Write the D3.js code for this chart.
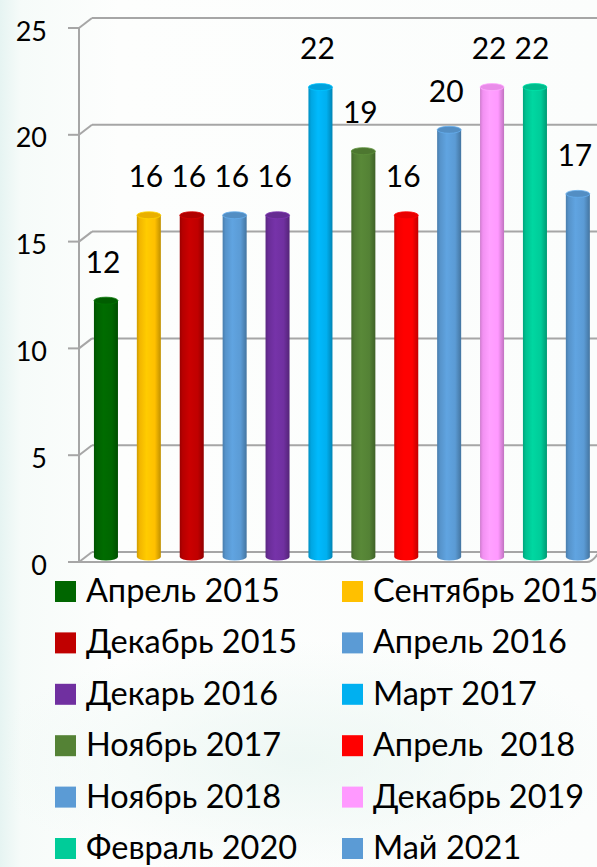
<!DOCTYPE html>
<html><head><meta charset="utf-8">
<script src="https://cdn.jsdelivr.net/npm/d3@7"></script>
<style>html,body{margin:0;padding:0;background:#fff;overflow:hidden;}svg{display:block;}</style>
</head><body>
<script>
const categories = ["Апрель 2015","Сентябрь 2015","Декабрь 2015","Апрель 2016","Декарь 2016","Март 2017","Ноябрь 2017","Апрель  2018","Ноябрь 2018","Декабрь 2019","Февраль 2020","Май 2021"];
const values = [12,16,16,16,16,22,19,16,20,22,22,17];
const colors = ["#006600","#FFC000","#C00000","#5B9BD5","#7030A0","#00B0F0","#548235","#FF0000","#5B9BD5","#FF99FF","#00CC99","#5B9BD5"];
const yTicks = [0,5,10,15,20,25];

const W = 597, H = 867;
const svg = d3.select("body").append("svg").attr("width", W).attr("height", H);
const defs = svg.append("defs");

// faint background
const bg = defs.append("linearGradient").attr("id","bgL").attr("x1",0).attr("x2",1).attr("y1",0).attr("y2",0);
bg.append("stop").attr("offset",0).attr("stop-color","#e6f4f2");
bg.append("stop").attr("offset",0.035).attr("stop-color","#f6fbf9");
bg.append("stop").attr("offset",0.2).attr("stop-color","#fdfefd");
bg.append("stop").attr("offset",1).attr("stop-color","#fbfdfc");
svg.append("rect").attr("width",W).attr("height",H).attr("fill","url(#bgL)");
const blob = defs.append("radialGradient").attr("id","blob");
blob.append("stop").attr("offset",0).attr("stop-color","#eaf6f2").attr("stop-opacity",0.8);
blob.append("stop").attr("offset",1).attr("stop-color","#eaf6f2").attr("stop-opacity",0);
svg.append("ellipse").attr("cx",300).attr("cy",760).attr("rx",320).attr("ry",120).attr("fill","url(#blob)");

const DX = 13, DY = 10;
const xFront = 79;
const yFront = d3.scaleLinear().domain([0,25]).range([562,28]);
const yBar = d3.scaleLinear().domain([0,25]).range([557,23]);
const x = d3.scaleBand().domain(categories).range([84.5, 599.3]).paddingInner(0.44).paddingOuter(0.22);

const grid = svg.append("g").attr("stroke","#a6a6a6").attr("stroke-width",2).attr("fill","none");
yTicks.forEach(v => {
  grid.append("line").attr("x1",xFront+DX).attr("x2",W+2).attr("y1",yFront(v)-DY).attr("y2",yFront(v)-DY);
  grid.append("line").attr("x1",xFront).attr("x2",xFront+DX).attr("y1",yFront(v)).attr("y2",yFront(v)-DY);
  grid.append("line").attr("x1",xFront-11).attr("x2",xFront).attr("y1",yFront(v)).attr("y2",yFront(v));
});
grid.append("line").attr("x1",xFront).attr("x2",xFront).attr("y1",yFront(25)).attr("y2",yFront(0));
grid.append("path").attr("d",`M${xFront},${yFront(0)} L${W-10},${yFront(0)} Q${W-4},${yFront(0)} ${W+2},${yFront(0)-DY}`);

// axis labels
svg.append("g").selectAll("text").data(yTicks).join("text")
  .attr("x",47).attr("y",v=>yFront(v)+2)
  .attr("text-anchor","end").attr("dominant-baseline","central")
  .attr("font-family","Lato, sans-serif").attr("font-size",27).attr("fill","#000")
  .text(d=>d);

// bars
const bars = svg.append("g");
categories.forEach((c,i) => {
  const col = d3.color(colors[i]);
  const g = defs.append("linearGradient").attr("id","bg"+i).attr("x1",0).attr("x2",1).attr("y1",0).attr("y2",0);
  g.append("stop").attr("offset",0).attr("stop-color",col.darker(0.6));
  g.append("stop").attr("offset",0.12).attr("stop-color",col.darker(0.15));
  g.append("stop").attr("offset",0.4).attr("stop-color",col.brighter(0.15));
  g.append("stop").attr("offset",0.75).attr("stop-color",col);
  g.append("stop").attr("offset",1).attr("stop-color",col.darker(0.8));
});
const ry = 3.5;
const bw = x.bandwidth();
bars.selectAll("path.body").data(values).join("path").attr("class","body")
  .attr("fill",(d,i)=>`url(#bg${i})`)
  .attr("d",(d,i)=>{
    const x0 = x(categories[i]), x1 = x0+bw, yt = yBar(d), yb = yBar(0);
    return `M${x0},${yt} L${x0},${yb} A${bw/2},${ry} 0 0 0 ${x1},${yb} L${x1},${yt} Z`;
  });
bars.selectAll("ellipse.top").data(values).join("ellipse").attr("class","top")
  .attr("cx",(d,i)=>x(categories[i])+bw/2).attr("cy",d=>yBar(d))
  .attr("rx",bw/2).attr("ry",ry)
  .attr("fill",(d,i)=>d3.color(colors[i]).darker(0.25))
  .attr("stroke",(d,i)=>d3.color(colors[i]).brighter(0.3)).attr("stroke-width",0.8);

// value labels
svg.append("g").selectAll("text").data(values).join("text")
  .attr("x",(d,i)=>x(categories[i])+bw/2-3).attr("y",d=>yBar(d)-28)
  .attr("text-anchor","middle")
  .attr("font-family","Lato, sans-serif").attr("font-size",30).attr("fill","#000")
  .text(d=>d);

// legend
const leg = svg.append("g");
categories.forEach((c,i) => {
  const col = i%2, row = Math.floor(i/2);
  const lx = col===0 ? 55 : 342;
  const by = 602 + row*51.4;
  leg.append("rect").attr("x",lx).attr("y",by-21).attr("width",21).attr("height",21).attr("fill",colors[i]);
  leg.append("text").attr("x",lx+31).attr("y",by)
    .attr("font-family","Lato, sans-serif").attr("font-size",32.5).attr("fill","#000")
    .style("white-space","pre")
    .text(c);
});
</script>
</body></html>
